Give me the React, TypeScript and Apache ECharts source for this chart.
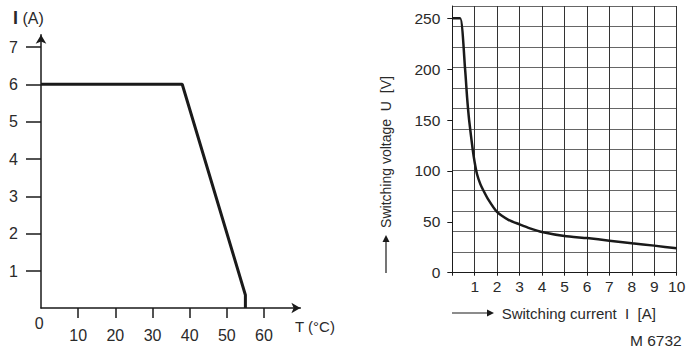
import React, { useEffect, useRef } from "react";
import * as echarts from "echarts";

// Left chart: derating curve I(A) vs T(°C)
const derateT = [0, 38, 55, 55];
const derateI = [6, 6, 0.35, 0];
const leftXTicks = [10, 20, 30, 40, 50, 60];
const leftYTicks = [1, 2, 3, 4, 5, 6, 7];

// Right chart: switching voltage vs switching current
const switchI = [0, 0.35, 0.57, 0.66, 0.75, 0.91, 1.0, 1.1, 1.25, 1.38, 1.6, 1.98, 2.5, 3, 3.46, 4, 5, 6, 7, 8, 9, 10];
const switchU = [250, 250, 200, 172, 150, 121, 108, 97, 87, 81, 72, 60, 52, 47.5, 43.6, 40, 36, 34, 31.5, 29, 26.6, 24];
const rightXTicks = [1, 2, 3, 4, 5, 6, 7, 8, 9, 10];
const rightYTicks = [0, 50, 100, 150, 200, 250];

const FONT = "'Liberation Sans', Arial, sans-serif";
const TXT = "#2a2a2a";
const LINE = "#1a1a1a";

export default function App() {
  const ref = useRef<HTMLDivElement>(null);
  useEffect(() => {
    document.body.style.margin = "0";
    if (!ref.current) return;
    const chart = echarts.init(ref.current, undefined, { renderer: "svg" });
    const lbl = (size: number, margin: number, list: number[]) => ({
      show: true,
      margin,
      fontSize: size,
      color: TXT,
      fontFamily: FONT,
      formatter: (v: number) => (list.indexOf(v) >= 0 ? String(v) : ""),
    });
    const option: any = {
      animation: false,
      backgroundColor: "#ffffff",
      textStyle: { fontFamily: FONT },
      grid: [
        // 0: left chart, arrow axes + series
        { left: 41, right: 398.6, top: 34.7, bottom: 41 },
        // 1: right chart, grid lines
        { left: 452.3, right: 22.3, top: 6, bottom: 76.3 },
        // 2: right chart, series + y labels
        { left: 452.3, right: 22.3, top: 18.3, bottom: 76.3 },
        // 3: left chart y ticks (1..7)
        { left: 41, right: 398.6, top: 47, bottom: 78 },
        // 4: left chart x ticks (10..60)
        { left: 78.2, right: 435, top: 34.7, bottom: 41 },
      ],
      xAxis: [
        {
          gridIndex: 0,
          type: "value",
          min: 0,
          max: 69.8,
          axisLine: { show: true, lineStyle: { color: LINE, width: 1.5 }, symbol: ["none", "arrow"], symbolSize: [8, 9] },
          axisTick: { show: false },
          axisLabel: { show: false },
          splitLine: { show: false },
        },
        {
          gridIndex: 1,
          type: "value",
          min: 0,
          max: 10,
          interval: 1,
          axisLine: { show: true, lineStyle: { color: LINE, width: 1 } },
          axisTick: { show: true, length: 3, lineStyle: { color: LINE, width: 1 } },
          axisLabel: lbl(15.5, 6, rightXTicks),
          splitLine: { show: true, lineStyle: { color: "#333", width: 1 } },
        },
        { gridIndex: 2, type: "value", min: 0, max: 10, show: false },
        { gridIndex: 3, type: "value", min: 0, max: 69.8, show: false },
        {
          gridIndex: 4,
          type: "value",
          min: 10,
          max: 60,
          interval: 10,
          axisLine: { show: false },
          axisTick: { show: true, length: 10, lineStyle: { color: LINE, width: 1.5 } },
          axisLabel: lbl(16, 19, leftXTicks),
          splitLine: { show: false },
        },
      ],
      yAxis: [
        {
          gridIndex: 0,
          type: "value",
          min: 0,
          max: 7.33,
          axisLine: { show: true, lineStyle: { color: LINE, width: 1.5 }, symbol: ["none", "arrow"], symbolSize: [8, 9] },
          axisTick: { show: false },
          axisLabel: { show: false },
          splitLine: { show: false },
        },
        {
          gridIndex: 1,
          type: "value",
          min: 0,
          max: 260,
          interval: 20,
          axisLine: { show: true, lineStyle: { color: LINE, width: 1 } },
          axisTick: { show: false },
          axisLabel: { show: false },
          splitLine: { show: true, lineStyle: { color: "#666", width: 1 } },
        },
        {
          gridIndex: 2,
          type: "value",
          min: 0,
          max: 250,
          interval: 50,
          axisLine: { show: false },
          axisTick: { show: true, length: 5, lineStyle: { color: LINE, width: 1 } },
          axisLabel: lbl(15.5, 12, rightYTicks),
          splitLine: { show: false },
        },
        {
          gridIndex: 3,
          type: "value",
          min: 1,
          max: 7,
          interval: 1,
          axisLine: { show: false },
          axisTick: { show: true, length: 15, lineStyle: { color: LINE, width: 1.5 } },
          axisLabel: lbl(16, 23, leftYTicks),
          splitLine: { show: false },
        },
        { gridIndex: 4, type: "value", min: 0, max: 7.33, show: false },
      ],
      series: [
        {
          type: "line",
          xAxisIndex: 0,
          yAxisIndex: 0,
          data: derateT.map((t, i) => [t, derateI[i]]),
          symbol: "none",
          clip: false,
          lineStyle: { color: LINE, width: 3 },
        },
        {
          type: "line",
          xAxisIndex: 2,
          yAxisIndex: 2,
          data: switchI.map((x, i) => [x, switchU[i]]),
          symbol: "none",
          smooth: 0.2,
          clip: false,
          lineStyle: { color: LINE, width: 2.5 },
        },
      ],
      graphic: [
        {
          type: "text",
          x: 13,
          y: 18,
          style: {
            text: "{b|I} (A)",
            fontSize: 16,
            fontFamily: FONT,
            fill: TXT,
            verticalAlign: "middle",
            rich: { b: { fontWeight: "bold", fontSize: 18, fontFamily: FONT, fill: TXT } },
          },
        },
        {
          type: "text",
          x: 39.3,
          y: 323.5,
          style: { text: "0", fontSize: 16, fontFamily: FONT, fill: TXT, align: "center", verticalAlign: "middle" },
        },
        {
          type: "text",
          x: 315,
          y: 326,
          style: { text: "T (°C)", fontSize: 15, fontFamily: FONT, fill: TXT, align: "center", verticalAlign: "middle" },
        },
        {
          type: "text",
          x: 501.7,
          y: 313,
          style: { text: "Switching current  I  [A]", fontSize: 15, fontFamily: FONT, fill: TXT, align: "left", verticalAlign: "middle" },
        },
        {
          type: "text",
          x: 681.7,
          y: 340.7,
          style: { text: "M 6732", fontSize: 15.5, fontFamily: FONT, fill: TXT, align: "right", verticalAlign: "middle" },
        },
        {
          type: "text",
          x: 386,
          y: 152,
          rotation: Math.PI / 2,
          style: { text: "Switching voltage  U  [V]", fontSize: 14, fontFamily: FONT, fill: TXT, align: "center", verticalAlign: "middle" },
        },
        { type: "line", shape: { x1: 452, y1: 313, x2: 488, y2: 313 }, style: { stroke: LINE, lineWidth: 1.2 } },
        { type: "polygon", shape: { points: [[487, 309.5], [494, 313], [487, 316.5]] }, style: { fill: LINE } },
        { type: "line", shape: { x1: 386, y1: 273, x2: 386, y2: 241 }, style: { stroke: LINE, lineWidth: 1.2 } },
        { type: "polygon", shape: { points: [[382.5, 242], [386, 235], [389.5, 242]] }, style: { fill: LINE } },
      ],
    };
    chart.setOption(option);
    return () => chart.dispose();
  }, []);
  return <div ref={ref} style={{ width: 699, height: 349 }} />;
}
